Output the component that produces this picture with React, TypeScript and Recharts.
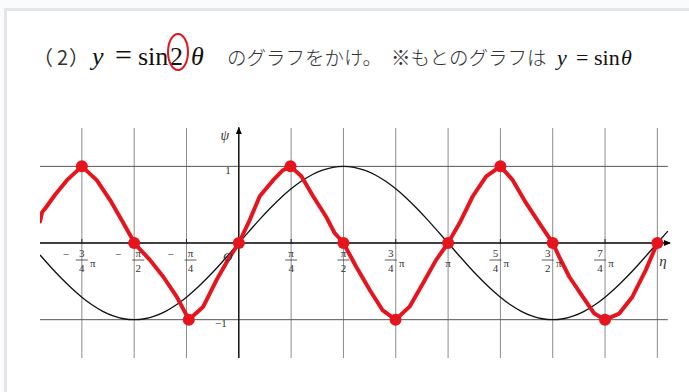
import {
  ComposedChart,
  Line,
  Scatter,
  XAxis,
  YAxis,
  ReferenceLine,
} from 'recharts';

// θ is measured in units of π throughout

// y = sin θ, sampled every 0.05π from -0.95π to 2.05π
const SIN_START = -0.95;
const SIN_STEP = 0.05;
const SIN_VALUES = [
  -0.156, -0.309, -0.454, -0.588, -0.707, -0.809, -0.891, -0.951, -0.988, -1,
  -0.988, -0.951, -0.891, -0.809, -0.707, -0.588, -0.454, -0.309, -0.156, 0,
  0.156, 0.309, 0.454, 0.588, 0.707, 0.809, 0.891, 0.951, 0.988, 1,
  0.988, 0.951, 0.891, 0.809, 0.707, 0.588, 0.454, 0.309, 0.156, 0,
  -0.156, -0.309, -0.454, -0.588, -0.707, -0.809, -0.891, -0.951, -0.988, -1,
  -0.988, -0.951, -0.891, -0.809, -0.707, -0.588, -0.454, -0.309, -0.156, 0,
  0.156,
];

// hand-drawn y = sin 2θ
const RED_T = [
  -0.95, -0.94, -0.92, -0.878, -0.821, -0.75, -0.679, -0.615, -0.56, -0.506, -0.5,
  -0.425, -0.361, -0.297, -0.25, -0.239, -0.17, -0.106, -0.043, 0,
  0.052, 0.1, 0.164, 0.211, 0.247, 0.299, 0.355, 0.418, 0.458, 0.5,
  0.561, 0.625, 0.688, 0.749, 0.816, 0.879, 0.943, 1,
  1.055, 1.118, 1.182, 1.25, 1.309, 1.373, 1.436, 1.5,
  1.531, 1.579, 1.643, 1.699, 1.75, 1.818, 1.881, 1.945, 2,
];
const RED_V = [
  0.28, 0.4, 0.47, 0.63, 0.82, 1, 0.82, 0.56, 0.3, 0.04, 0,
  -0.22, -0.44, -0.7, -0.94, -1, -0.83, -0.48, -0.18, 0,
  0.3, 0.61, 0.82, 0.95, 1, 0.87, 0.61, 0.34, 0.13, 0,
  -0.31, -0.61, -0.88, -1, -0.83, -0.53, -0.22, 0,
  0.26, 0.61, 0.87, 1, 0.82, 0.52, 0.26, 0,
  -0.18, -0.44, -0.7, -0.92, -1, -0.92, -0.7, -0.35, 0,
];

// points marked on sin 2θ
const DOT_T = [-0.75, -0.5, -0.239, 0, 0.247, 0.5, 0.749, 1, 1.25, 1.5, 1.75, 2];
const DOT_V = [1, 0, -1, 0, 1, 0, -1, 0, 1, 0, -1, 0];

const GRID_X = [-0.75, -0.5, -0.25, 0.25, 0.5, 0.75, 1, 1.25, 1.5, 1.75, 2];
const GRID_Y = [1, -1];

const TICK_T = [-0.75, -0.5, -0.25, 0.25, 0.5, 0.75, 1, 1.25, 1.5, 1.75];
const TICK_LABELS = ['−3/4π', '−π/2', '−π/4', 'π/4', 'π/2', '3/4π', 'π', '5/4π', '3/2π', '7/4π'];

const Y_LABEL_V = [1, -1];
const Y_LABELS = ['1', '−1'];

const X_MIN = -0.95;
const X_MAX = 2.07;
const Y_MIN = -1.5;
const Y_MAX = 1.52;

const sinData = SIN_VALUES.map((y, i) => ({ x: +(SIN_START + i * SIN_STEP).toFixed(2), y }));
const redData = RED_T.map((x, i) => ({ x, y: RED_V[i] }));
const dotData = DOT_T.map((x, i) => ({ x, y: DOT_V[i] }));
const tickData = TICK_T.map((x, i) => ({ x, y: 0, label: TICK_LABELS[i] }));
const yLabelData = Y_LABEL_V.map((y, i) => ({ x: 0, y, label: Y_LABELS[i] }));

const RED = '#e5141d';
const INK = '#333';
const SERIF = '"Liberation Serif", "Times New Roman", serif';
const JP = '"Noto Sans CJK JP", "Noto Sans", sans-serif';

const tickFont = { fontFamily: SERIF, fontSize: 11 };

const TickLabel = (props: any) => {
  const { cx, cy, payload } = props;
  const raw: string = payload.label;
  const neg = raw.startsWith('−');
  const body = neg ? raw.slice(1) : raw;
  const mark = <line x1={cx} y1={cy - 4} x2={cx} y2={cy} stroke="#222" strokeWidth={1} />;
  if (!body.includes('/')) {
    return (
      <g>
        {mark}
        <text x={cx} y={cy + 24} textAnchor="middle" fill={INK} {...tickFont}>{body}</text>
      </g>
    );
  }
  let [num, den] = body.split('/');
  const piSuffix = den.endsWith('π');
  if (piSuffix) den = den.slice(0, -1);
  const fx = neg ? cx + (num === 'π' ? 4 : 0) : cx - (piSuffix ? 5 : 0);
  return (
    <g>
      {mark}
      {neg && <text x={cx - 16} y={cy + 15} textAnchor="middle" fill={INK} {...tickFont}>−</text>}
      <text x={fx} y={cy + 14} textAnchor="middle" fill={INK} {...tickFont}>{num}</text>
      <line x1={fx - 6} y1={cy + 17} x2={fx + 6} y2={cy + 17} stroke={INK} strokeWidth={0.8} />
      <text x={fx} y={cy + 29} textAnchor="middle" fill={INK} {...tickFont}>{den}</text>
      {piSuffix && <text x={fx + 11} y={cy + 24} textAnchor="middle" fill={INK} {...tickFont}>π</text>}
    </g>
  );
};

const YLabel = (props: any) => {
  const { cx, cy, payload } = props;
  const neg = payload.label.startsWith('−');
  return (
    <text x={cx - (neg ? 12 : 8)} y={cy + (neg ? 7 : 8)} textAnchor="end" fill={INK} {...tickFont}>
      {payload.label}
    </text>
  );
};

const RedDot = (props: any) => <circle cx={props.cx} cy={props.cy} r={6} fill={RED} />;

const XArrow = (props: any) => {
  const { cx, cy } = props;
  return (
    <g>
      <polygon points={`${cx},${cy} ${cx - 7},${cy - 3} ${cx - 7},${cy + 3}`} fill="#000" />
      <text x={cx - 8} y={cy + 23} textAnchor="middle" fontFamily={SERIF} fontStyle="italic" fontSize={15} fill={INK}>η</text>
    </g>
  );
};

const YArrow = (props: any) => {
  const { cx, cy } = props;
  return (
    <g>
      <polygon points={`${cx},${cy} ${cx - 3},${cy + 7} ${cx + 3},${cy + 7}`} fill="#000" />
      <text x={cx - 14} y={cy + 13} textAnchor="middle" fontFamily={SERIF} fontStyle="italic" fontSize={14} fill={INK}>ψ</text>
    </g>
  );
};

const Origin = (props: any) => (
  <text x={props.cx - 11} y={props.cy + 18} textAnchor="middle" fontFamily={SERIF} fontStyle="italic" fontSize={13} fill={INK}>O</text>
);

function Title() {
  const math = { fontFamily: SERIF, fontSize: 26, fill: '#111' };
  const math2 = { fontFamily: SERIF, fontSize: 22, fill: '#111' };
  const jp = { fontFamily: JP, fontSize: 19.5, fontWeight: 300, fill: '#333' };
  const num = { fontFamily: JP, fontSize: 20, fill: '#333' };
  return (
    <svg width={689} height={100} style={{ position: 'absolute', left: 0, top: 0 }}>
      <text x={33} y={65} {...num}>（</text>
      <text x={57} y={65} {...num}>2</text>
      <text x={69} y={65} {...num}>）</text>
      <text x={92} y={65} fontStyle="italic" {...math}>y</text>
      <text x={115} y={65} {...math} fontSize={30}>=</text>
      <text x={138} y={65} {...math}>sin</text>
      <text x={170} y={65} {...math}>2</text>
      <text x={191} y={65} fontStyle="italic" {...math}>θ</text>
      <ellipse cx={178} cy={52} rx={10} ry={18} fill="none" stroke={RED} strokeWidth={2} />
      <text x={227} y={65} {...jp}>のグラフをかけ。</text>
      <text x={391} y={65} {...jp}>※もとのグラフは</text>
      <text x={557} y={65} fontStyle="italic" {...math2}>y</text>
      <text x={576} y={65} {...math2}>=</text>
      <text x={594} y={65} {...math2}>sin</text>
      <text x={621} y={65} fontStyle="italic" {...math2}>θ</text>
    </svg>
  );
}

export default function App() {
  return (
    <div style={{ position: 'absolute', left: 0, top: 0, width: 689, height: 392, background: '#fafbfc', overflow: 'hidden' }}>
      <div
        style={{
          position: 'absolute',
          left: 4,
          top: 8,
          width: 685,
          height: 384,
          background: '#fff',
          borderTop: '3px solid #e3e5ea',
          borderLeft: '3px solid #e3e5ea',
        }}
      />
      <Title />
      <div style={{ position: 'absolute', left: 0, top: 0 }}>
        <ComposedChart
          width={689}
          height={392}
          margin={{ top: 126.5, right: 17, bottom: 34, left: 40 }}
        >
          <XAxis type="number" dataKey="x" domain={[X_MIN, X_MAX]} allowDataOverflow hide />
          <YAxis type="number" dataKey="y" domain={[Y_MIN, Y_MAX]} allowDataOverflow hide />
          {GRID_X.map((t) => (
            <ReferenceLine
              key={`gx-${t}`}
              segment={[{ x: t, y: Y_MIN }, { x: t, y: 1.5 }]}
              stroke="#8c8c8c"
              strokeWidth={1}
            />
          ))}
          {GRID_Y.map((v) => (
            <ReferenceLine
              key={`gy-${v}`}
              segment={[{ x: X_MIN, y: v }, { x: 2.05, y: v }]}
              stroke="#555"
              strokeWidth={1}
            />
          ))}
          <ReferenceLine segment={[{ x: X_MIN, y: 0 }, { x: 2.06, y: 0 }]} stroke="#000" strokeWidth={1.4} />
          <ReferenceLine segment={[{ x: 0, y: Y_MIN }, { x: 0, y: 1.51 }]} stroke="#000" strokeWidth={1.4} />
          <Line
            data={sinData}
            dataKey="y"
            type="monotone"
            stroke="#111"
            strokeWidth={1.3}
            dot={false}
            activeDot={false}
            isAnimationActive={false}
          />
          <Scatter data={tickData} dataKey="y" shape={TickLabel} isAnimationActive={false} />
          <Scatter data={yLabelData} dataKey="y" shape={YLabel} isAnimationActive={false} />
          <Scatter data={[{ x: 0, y: 0 }]} dataKey="y" shape={Origin} isAnimationActive={false} />
          <Scatter data={[{ x: 2.065, y: 0 }]} dataKey="y" shape={XArrow} isAnimationActive={false} />
          <Scatter data={[{ x: 0, y: 1.515 }]} dataKey="y" shape={YArrow} isAnimationActive={false} />
          <Line
            data={redData}
            dataKey="y"
            type="linear"
            stroke={RED}
            strokeWidth={4}
            strokeLinejoin="round"
            strokeLinecap="round"
            dot={false}
            activeDot={false}
            isAnimationActive={false}
          />
          <Scatter data={dotData} dataKey="y" shape={RedDot} isAnimationActive={false} />
        </ComposedChart>
      </div>
    </div>
  );
}
